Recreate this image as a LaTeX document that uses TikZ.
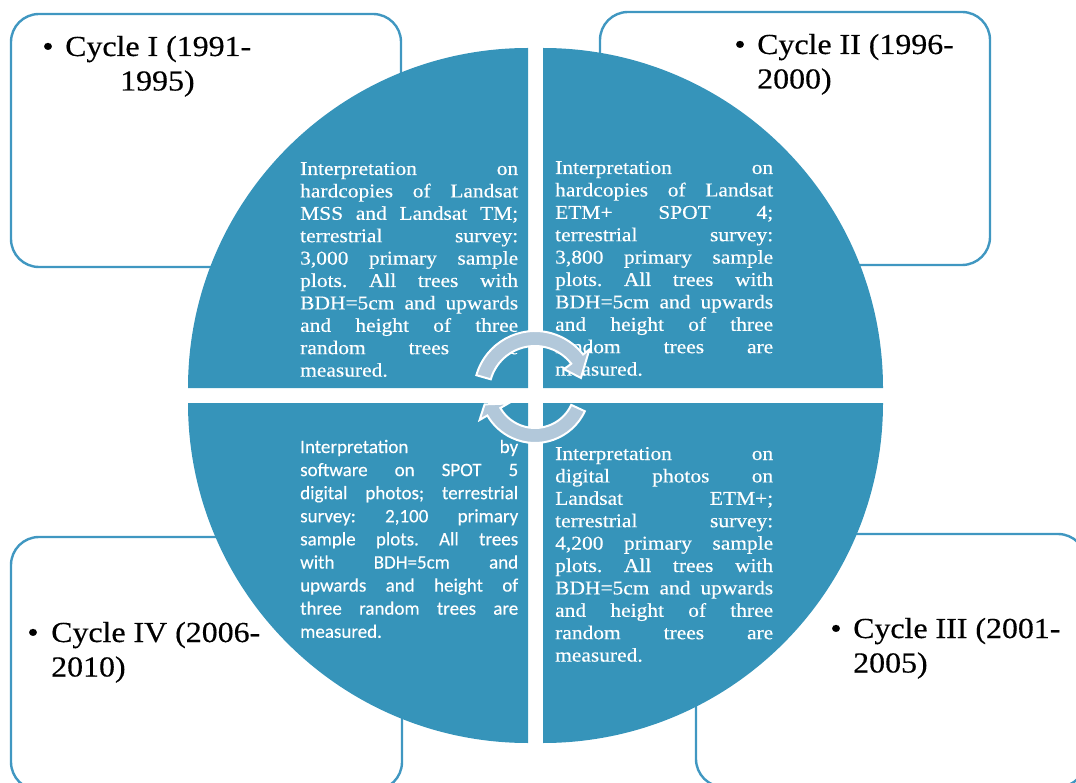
\documentclass[tikz,border=0pt]{standalone}
\usepackage{fontspec}
\setmainfont{Liberation Serif}[FakeStretch=1.1,FakeBold=0.4]
\newfontfamily\calib{Carlito}[FakeBold=0.3]
\definecolor{qfill}{RGB}{54,148,186}
\definecolor{bline}{RGB}{64,151,193}
\definecolor{afill}{RGB}{178,200,218}
\newlength\qw \setlength\qw{218pt}
\newcommand\jl[1]{\makebox[\qw][s]{#1}\par}
\newcommand\lastl[1]{\mbox{#1}\par}
\newcommand\qtext[1]{\vtop{\hsize=\qw\parindent=0pt\parskip=0pt\frenchspacing #1}}
\tikzset{
  cyclebox/.style={draw=bline, line width=2.4pt, rounded corners=28pt},
  quad/.style={fill=qfill},
  qtxt/.style={anchor=base west, inner sep=0pt, text=white, font=\fontsize{19.5}{22.4}\selectfont},
  qtxtc/.style={anchor=base west, inner sep=0pt, text=white, font=\calib\fontsize{19}{23.1}\selectfont},
  lbl/.style={anchor=base west, inner sep=0pt, font=\fontsize{29}{34.5}\selectfont},
  bul/.style={anchor=base, inner sep=0pt, font=\fontsize{29}{34.5}\selectfont},
  arr/.style={fill=afill, draw=white, line width=2pt, line join=miter},
}
\begin{document}
\begin{tikzpicture}[x=1pt,y=1pt]
\useasboundingbox (0,0) rectangle (1076,-783);
\clip (0,0) rectangle (1076,-783);
% outer boxes
\draw[cyclebox] (11,-14) rectangle (401,-267);
\draw[cyclebox] (600,-12) rectangle (990,-265);
\draw[cyclebox] (11,-537) rectangle (402,-790);
\draw[cyclebox] (696,-534) rectangle (1086,-787);
% labels
\node[bul] (b1) at (48,-56) {\textbullet};
\node[lbl] (c1) at (65,-56) {\vtop{\hbox{Cycle I (1991-}\hbox{\hspace*{55pt}1995)}}};
\node[bul] (b2) at (740,-54) {\textbullet};
\node[lbl] (c2) at (757,-54) {\vtop{\hbox{Cycle II (1996-}\hbox{2000)}}};
\node[bul] (b4) at (33,-642) {\textbullet};
\node[lbl] (c4) at (51,-642) {\vtop{\hbox{Cycle IV (2006-}\hbox{2010)}}};
\node[bul] (b3) at (836,-638) {\textbullet};
\node[lbl] (c3) at (853,-638) {\vtop{\hbox{Cycle III (2001-}\hbox{2005)}}};
% quadrants
\fill[quad] (528,-388) -- (188,-388) arc[start angle=180,end angle=90,radius=340] -- cycle;
\fill[quad] (543,-388) -- (543,-48) arc[start angle=90,end angle=0,radius=340] -- cycle;
\fill[quad] (528,-403) -- (188,-403) arc[start angle=180,end angle=270,radius=340] -- cycle;
\fill[quad] (543,-403) -- (883,-403) arc[start angle=0,end angle=-90,radius=340] -- cycle;
% quadrant texts
\node[qtxt] (t1) at (300,-175) {\qtext{%
\jl{Interpretation on}
\jl{hardcopies of Landsat}
\jl{MSS and Landsat TM;}
\jl{terrestrial survey:}
\jl{3,000 primary sample}
\jl{plots. All trees with}
\jl{BDH=5cm and upwards}
\jl{and height of three}
\jl{random trees are}
\lastl{measured.}}};
\node[qtxt] (t2) at (555,-174) {\qtext{%
\jl{Interpretation on}
\jl{hardcopies of Landsat}
\jl{ETM+ SPOT 4;}
\jl{terrestrial survey:}
\jl{3,800 primary sample}
\jl{plots. All trees with}
\jl{BDH=5cm and upwards}
\jl{and height of three}
\jl{random trees are}
\lastl{measured.}}};
\node[qtxt] (t3) at (555,-460) {\qtext{%
\jl{Interpretation on}
\jl{digital photos on}
\jl{Landsat ETM+;}
\jl{terrestrial survey:}
\jl{4,200 primary sample}
\jl{plots. All trees with}
\jl{BDH=5cm and upwards}
\jl{and height of three}
\jl{random trees are}
\lastl{measured.}}};
\node[qtxtc] (t4) at (300,-453) {\qtext{%
\jl{Interpretation by}
\jl{software on SPOT 5}
\jl{digital photos; terrestrial}
\jl{survey: 2,100 primary}
\jl{sample plots. All trees}
\jl{with BDH=5cm and}
\jl{upwards and height of}
\jl{three random trees are}
\lastl{measured.}}};
% circular arrows
\begin{scope}[shift={(535,-392)}]
\draw[arr] (164:61) arc[start angle=164,end angle=38,radius=61] -- (38:69) -- (17:48) -- (38:37) -- (38:46) arc[start angle=38,end angle=164,radius=46] -- cycle;
\end{scope}
\begin{scope}[shift={(535,-388)}]
\draw[arr] (-25:55) arc[start angle=-25,end angle=-150,radius=55] -- (-150:64) -- (-162:53) -- (-150:31) -- (-150:40) arc[start angle=-150,end angle=-25,radius=40] -- cycle;
\end{scope}
\end{tikzpicture}
\end{document}
